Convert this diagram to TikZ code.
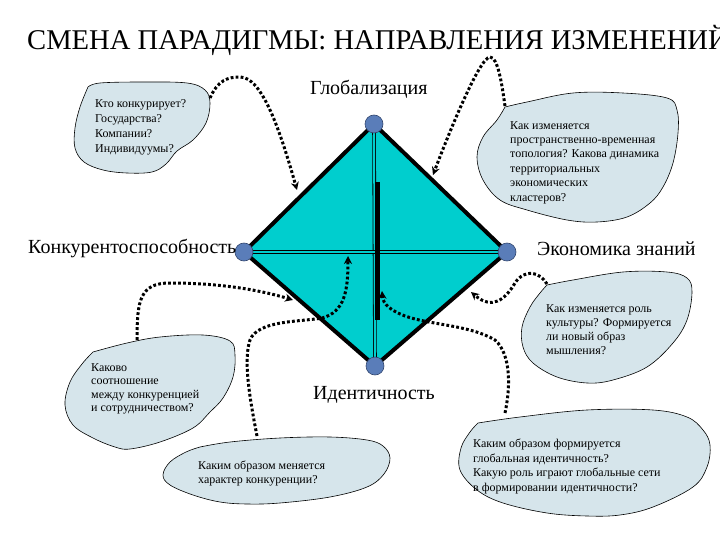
\documentclass[tikz,border=0pt]{standalone}
\usepackage{fontspec}
\setmainfont{Liberation Serif}
\newfontfamily\tnr{Liberation Serif}
\usetikzlibrary{arrows.meta}
\definecolor{dfill}{RGB}{0,206,206}
\definecolor{cfill}{RGB}{214,229,235}
\definecolor{vfill}{RGB}{90,125,185}
\definecolor{vline}{RGB}{50,70,110}
\tikzset{
  cloudshape/.style={fill=cfill, draw=black, line width=0.6pt},
  ctext/.style={anchor=north west, inner sep=0pt, align=left},
  lbl/.style={anchor=base west, inner sep=0pt, font={\tnr\fontsize{20}{24}\selectfont}},
  vert/.style={circle, fill=vfill, draw=vline, line width=0.6pt, minimum size=18pt, inner sep=0pt},
  arr/.style={line width=3pt, dash pattern=on 2.8pt off 2.2pt, -{Stealth[length=8pt,width=8pt]}},
  dbl/.style={draw=black, line width=0.8pt, double=dfill, double distance=2pt},
}
\begin{document}
\begin{tikzpicture}[x=1pt,y=-1pt]
\useasboundingbox (0,0) rectangle (720,540);

% title
\node[anchor=base west, inner sep=0pt, font={\tnr\fontsize{28.6}{30}\selectfont}] (title) at (27,50) {СМЕНА ПАРАДИГМЫ: НАПРАВЛЕНИЯ ИЗМЕНЕНИЙ};

% clouds
\draw[cloudshape] plot[smooth, tension=0.6] coordinates {(88,87) (100,83) (143,82) (187,83) (205,90) (210,103) (206,123) (193,140) (177,151) (166,164) (152,172) (127,173) (103,170) (84,162) (75,148) (75,128) (80,107) (88,87)};
\draw[cloudshape] plot[smooth, tension=0.6] coordinates {(505,107) (527,102) (573,93) (623,93) (667,98) (677,110) (678,133) (673,163) (663,187) (650,203) (627,217) (597,222) (567,220) (527,210) (500,200) (483,180) (477,157) (483,137) (497,120) (505,107)};
\draw[cloudshape] plot[smooth, tension=0.6] coordinates {(547,285) (573,280) (623,272) (667,272) (687,278) (692,292) (687,320) (673,343) (647,367) (613,380) (587,383) (557,377) (533,363) (523,347) (522,327) (530,307) (540,293) (547,285)};
\draw[cloudshape] plot[smooth, tension=0.6] coordinates {(93,352) (127,343) (160,337) (203,335) (230,341) (235,355) (233,377) (223,398) (210,412) (193,428) (160,442) (130,449) (115,447) (93,438) (73,425) (65,405) (70,382) (82,364) (93,352)};
\draw[cloudshape] plot[smooth, tension=0.6] coordinates {(200,447) (230,442) (280,438) (330,437) (367,440) (383,446) (390,458) (384,474) (367,487) (330,497) (280,503) (247,504) (220,502) (193,495) (170,485) (163,475) (170,462) (186,452) (200,447)};
\draw[cloudshape] plot[smooth, tension=0.6] coordinates {(478,423) (520,417) (587,410) (653,410) (687,417) (703,430) (710,445) (707,467) (693,487) (653,507) (620,515) (587,516) (547,513) (503,503) (477,490) (460,470) (461,448) (470,432) (478,423)};

% cloud texts
\node[ctext, font={\tnr\fontsize{12}{15}\selectfont}] (q1) at (95,99) {Кто конкурирует?\\Государства?\\Компании?\\Индивидуумы?};
\node[ctext, font={\tnr\fontsize{12}{14.4}\selectfont}] (q2) at (510,121) {Как изменяется\\пространственно-временная\\топология? Какова динамика\\территориальных\\экономических\\кластеров?};
\node[ctext, font={\tnr\fontsize{12}{14}\selectfont}] (q3) at (546,304) {Как изменяется роль\\культуры? Формируется\\ли новый образ\\мышления?};
\node[ctext, font={\tnr\fontsize{12}{13.5}\selectfont}] (q4) at (91,363) {Каково\\соотношение\\между конкуренцией\\и сотрудничеством?};
\node[ctext, font={\tnr\fontsize{12}{13.5}\selectfont}] (q5) at (198,461) {Каким образом меняется\\характер конкуренции?};
\node[ctext, font={\tnr\fontsize{12}{14.5}\selectfont}] (q6) at (473,439) {Каким образом формируется\\глобальная идентичность?\\Какую роль играют глобальные сети\\в формировании идентичности?};

% diamond
\coordinate (T) at (374,124);
\coordinate (L) at (244,252);
\coordinate (R) at (507,252);
\coordinate (B) at (375,366);
\fill[dfill] (T) -- (R) -- (B) -- (L) -- cycle;
\draw[dbl] (T) -- (B);
\draw[dbl] (L) -- (R);
\draw[line width=5pt] (377,182) -- (377,320);
\draw[line width=4pt, line join=round] (T) -- (R) -- (B) -- (L) -- cycle;
\node[vert] (vT) at (T) {};
\node[vert] (vL) at (L) {};
\node[vert] (vR) at (R) {};
\node[vert] (vB) at (B) {};

% labels
\node[lbl] (glob) at (310,95) {Глобализация};
\node[lbl] (konk) at (28,253) {Конкурентоспособность};
\node[lbl] (econ) at (537,255) {Экономика знаний};
\node[lbl] (ident) at (313,399) {Идентичность};

% connector ends
\coordinate (a1) at (210,98);  \coordinate (a2) at (297,190);
\coordinate (b1) at (505,106); \coordinate (b2) at (433,175);
\coordinate (c1) at (547,284); \coordinate (c2) at (471,292);
\coordinate (d1) at (137,340); \coordinate (d2) at (293,300);
\coordinate (e1) at (257,436); \coordinate (e2) at (348,256);
\coordinate (f1) at (505,413); \coordinate (f2) at (382,291);

\draw[arr] (a1) .. controls (218,80) and (228,77) .. (240,77) .. controls (262,77) and (280,130) .. (a2);
\draw[arr] (b1) .. controls (502,85) and (498,57) .. (490,57) .. controls (480,57) and (450,130) .. (b2);
\draw[arr] (c1) .. controls (540,272) and (525,268) .. (515,283) .. controls (505,300) and (492,310) .. (c2);
\draw[arr] (d1) .. controls (137,300) and (140,283) .. (170,283) .. controls (220,283) and (260,290) .. (d2);
\draw[arr] (e1) .. controls (250,400) and (243,360) .. (250,340) .. controls (258,320) and (300,322) .. (322,318) .. controls (345,312) and (348,290) .. (e2);
\draw[arr] (f1) .. controls (510,390) and (512,355) .. (495,340) .. controls (470,325) and (430,325) .. (405,316) .. controls (392,311) and (383,305) .. (f2);
\end{tikzpicture}
\end{document}
